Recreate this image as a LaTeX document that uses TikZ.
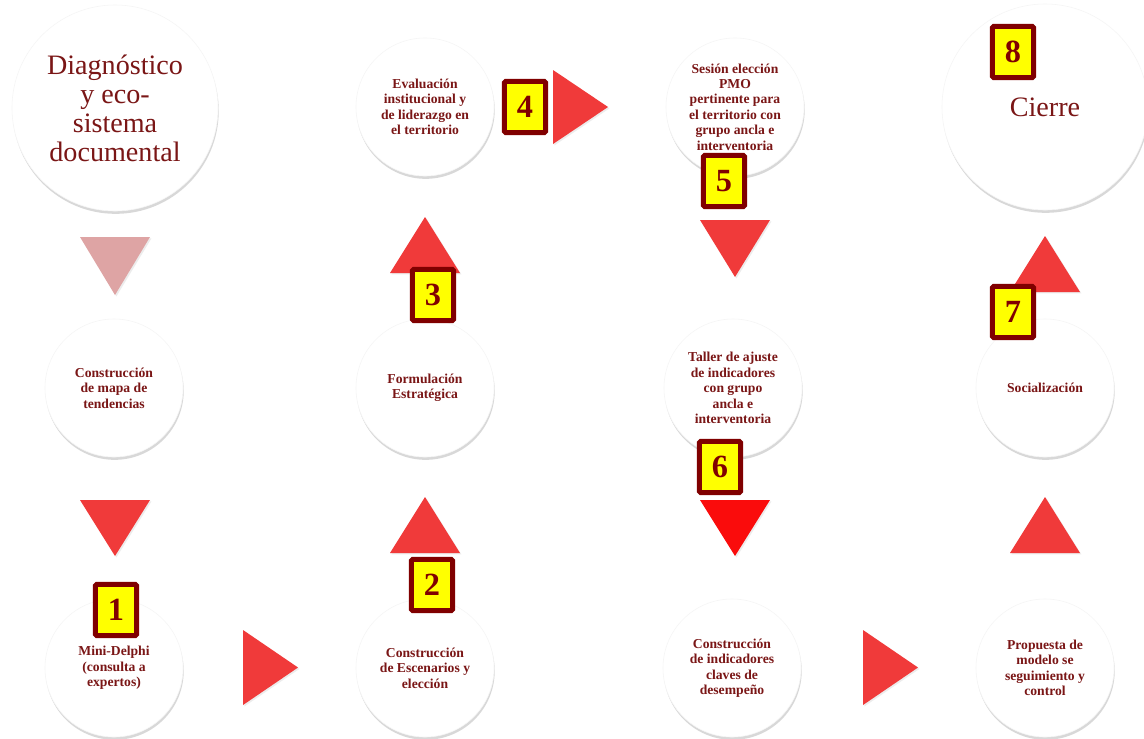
\documentclass[tikz,border=0pt]{standalone}
\usepackage{fontspec}
\setmainfont{Liberation Serif}
\usetikzlibrary{shadows}

\definecolor{granate}{RGB}{122,22,22}
\definecolor{borde}{RGB}{128,0,0}
\definecolor{amarillo}{RGB}{255,255,0}
\definecolor{rojo}{RGB}{240,58,58}
\definecolor{rojovivo}{RGB}{250,12,12}
\definecolor{rosa}{RGB}{222,164,164}

\tikzset{
  etapa/.style={circle, fill=white, draw=black!4, minimum size=3.45cm, inner sep=0pt,
    align=center, text=granate, font=\bfseries\fontsize{9.7}{11}\selectfont,
    drop shadow={shadow xshift=0.5pt, shadow yshift=-2pt, opacity=0.3}},
  grande/.style={etapa, minimum size=5.15cm, font=\fontsize{20}{20.6}\selectfont},
  numero/.style={rectangle, rounded corners=1pt, fill=amarillo, draw=borde, line width=3.5pt,
    minimum width=1.03cm, minimum height=1.28cm, inner sep=0pt, text=borde,
    font=\bfseries\fontsize{23}{23}\selectfont},
  flecha/.style={fill=rojo, drop shadow={shadow xshift=1pt, shadow yshift=-1pt, opacity=0.15}},
}

\begin{document}
\begin{tikzpicture}[x=0.025cm, y=-0.025cm, line cap=round]
  \useasboundingbox[fill=white] (0,0) rectangle (1144,738);
  %etapas
  \node[grande] (diag) at (115,108) {Diagnóstico\\y eco-\\sistema\\documental};
  \node[etapa] (mapa) at (114,388) {Construcción\\de mapa de\\tendencias};
  \node[etapa] (delphi) at (114,668) {Mini-Delphi\\(consulta a\\expertos)};
  \node[etapa] (escen) at (425,668) {Construcción\\de Escenarios y\\elección};
  \node[etapa] (formul) at (425,388) {Formulación\\Estratégica};
  \node[etapa] (evalu) at (425,107) {Evaluación\\institucional y\\de liderazgo en\\el territorio};
  \node[etapa] (sesion) at (735,107) {Sesión elección\\PMO\\pertinente para\\el territorio con\\grupo ancla e\\interventoria};
  \node[etapa] (taller) at (733,388) {Taller de ajuste\\de indicadores\\con grupo\\ancla e\\interventoria};
  \node[etapa] (indic) at (732,668) {Construcción\\de indicadores\\claves de\\desempeño};
  \node[etapa] (propu) at (1045,668) {Propuesta de\\modelo se\\seguimiento y\\control};
  \node[etapa] (social) at (1045,388) {Socialización};
  \node[grande] (cierre) at (1045,107) {Cierre};

  %flechas
  \fill[flecha, fill=rosa] (80,237) -- ++(70,0) -- ++(-35,58) -- cycle;
  \fill[flecha] (80,500) -- ++(70,0) -- ++(-35,56) -- cycle;
  \fill[flecha] (243,630) -- ++(0,75) -- ++(55,-37.5) -- cycle;
  \fill[flecha] (390,553) -- ++(70,0) -- ++(-35,-56) -- cycle;
  \fill[flecha] (390,273) -- ++(70,0) -- ++(-35,-56) -- cycle;
  \fill[flecha] (553,70) -- ++(0,74) -- ++(55,-37) -- cycle;
  \fill[flecha] (700,220) -- ++(70,0) -- ++(-35,57) -- cycle;
  \fill[flecha, fill=rojovivo] (700,500) -- ++(70,0) -- ++(-35,56) -- cycle;
  \fill[flecha] (863,630) -- ++(0,75) -- ++(55,-37.5) -- cycle;
  \fill[flecha] (1010,553) -- ++(70,0) -- ++(-35,-56) -- cycle;
  \fill[flecha] (1010,292) -- ++(70,0) -- ++(-35,-56) -- cycle;

  %numeros
  \node[numero] (n1) at (116,610) {1};
  \node[numero] (n2) at (432,585) {2};
  \node[numero] (n3) at (433,295) {3};
  \node[numero] (n4) at (525,107) {4};
  \node[numero] (n5) at (724,181) {5};
  \node[numero] (n6) at (720,467) {6};
  \node[numero] (n7) at (1013,312) {7};
  \node[numero] (n8) at (1013,52) {8};
\end{tikzpicture}
\end{document}
